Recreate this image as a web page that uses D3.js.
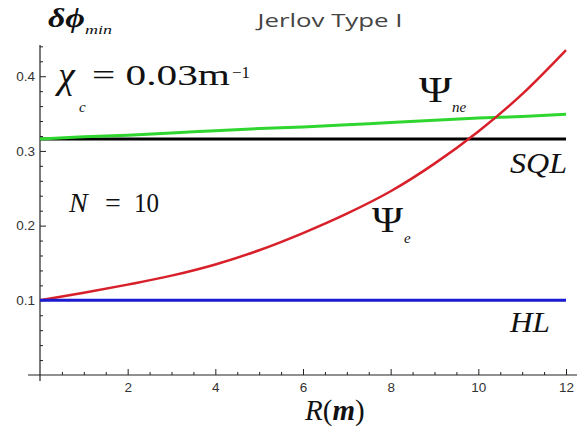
<!DOCTYPE html>
<html>
<head>
<meta charset="utf-8">
<script src="https://cdn.jsdelivr.net/npm/d3@7"></script>
<style>
  body { margin: 0; background: #fff; }
  .tick text { font-size: 13.5px; font-family: "Liberation Sans", Arial, sans-serif; fill: #333; }
</style>
</head>
<body>
<script>
var rValues = [0, 1, 2, 3, 4, 5, 6, 7, 8, 9, 10, 11, 12];
var psiE  = [0.100, 0.110, 0.121, 0.133, 0.148, 0.167, 0.190, 0.216, 0.246, 0.283, 0.326, 0.376, 0.435];
var psiNe = [0.316, 0.319, 0.321, 0.324, 0.327, 0.330, 0.332, 0.335, 0.338, 0.341, 0.344, 0.346, 0.349];
var sqlValues = [0.316, 0.316, 0.316, 0.316, 0.316, 0.316, 0.316, 0.316, 0.316, 0.316, 0.316, 0.316, 0.316];
var hlValues  = [0.1, 0.1, 0.1, 0.1, 0.1, 0.1, 0.1, 0.1, 0.1, 0.1, 0.1, 0.1, 0.1];
var xTicks = [2, 4, 6, 8, 10, 12];
var yTicks = [0.1, 0.2, 0.3, 0.4];

var w = 585;
var h = 433;
var serif = '"Liberation Serif", "DejaVu Serif", serif';

var svg = d3.select("body")
            .append("svg")
            .attr("width", w)
            .attr("height", h);

var xScale = d3.scaleLinear().domain([0, 12]).range([40, 566]);
var yScale = d3.scaleLinear().domain([0, 0.4418]).range([375, 45]);

// axis lines (Mathematica style, crossing at origin)
svg.append("line")
   .attr("x1", 28).attr("x2", 577)
   .attr("y1", yScale(0)).attr("y2", yScale(0))
   .attr("stroke", "#222").attr("stroke-width", 1.2);
svg.append("line")
   .attr("x1", xScale(0)).attr("x2", xScale(0))
   .attr("y1", yScale(0.4418)).attr("y2", 381)
   .attr("stroke", "#222").attr("stroke-width", 1.2);

// minor ticks
var xMinor = d3.range(1, 25).map(function(i) { return i * 0.5; })
               .filter(function(d) { return d % 2 !== 0; });
var yMinor = d3.range(1, 23).map(function(i) { return +(i * 0.02).toFixed(2); })
               .filter(function(d) { return Math.round(d * 100) % 10 !== 0; });

svg.append("g")
   .attr("transform", "translate(0," + yScale(0) + ")")
   .call(d3.axisBottom(xScale).tickValues(xMinor).tickSize(-3).tickFormat(""))
   .call(function(g) { g.select(".domain").remove(); });

svg.append("g")
   .attr("transform", "translate(" + xScale(0) + ",0)")
   .call(d3.axisLeft(yScale).tickValues(yMinor).tickSize(-3).tickFormat(""))
   .call(function(g) { g.select(".domain").remove(); });

// major ticks with labels
var xAxis = svg.append("g")
   .attr("transform", "translate(0," + yScale(0) + ")")
   .call(d3.axisBottom(xScale).tickValues(xTicks).tickSizeInner(-6).tickSizeOuter(0).tickPadding(7));
xAxis.select(".domain").remove();

var yAxis = svg.append("g")
   .attr("transform", "translate(" + xScale(0) + ",0)")
   .call(d3.axisLeft(yScale).tickValues(yTicks).tickSizeInner(-6).tickSizeOuter(0).tickPadding(5)
           .tickFormat(d3.format(".1f")));
yAxis.select(".domain").remove();

svg.selectAll(".tick line").attr("stroke", "#222").attr("stroke-width", 1);

// curves
var series = [
  { values: sqlValues, color: "#000000", width: 3 },
  { values: psiNe,     color: "#2fd62f", width: 3 },
  { values: psiE,      color: "#d8202a", width: 2.5 },
  { values: hlValues,  color: "#1a1ad0", width: 3 }
];

var line = d3.line()
   .x(function(d, i) { return xScale(rValues[i]); })
   .y(function(d) { return yScale(d); })
   .curve(d3.curveMonotoneX);

svg.selectAll("path.curve")
   .data(series)
   .enter()
   .append("path")
   .attr("class", "curve")
   .attr("d", function(d) { return line(d.values); })
   .attr("fill", "none")
   .attr("stroke", function(d) { return d.color; })
   .attr("stroke-width", function(d) { return d.width; });

// helper for labels
function label(x, y, txt, size, opts) {
  opts = opts || {};
  var t = svg.append("text")
     .attr("x", x).attr("y", y)
     .style("font-family", opts.family || serif)
     .style("font-size", size + "px")
     .style("font-style", opts.italic ? "italic" : "normal")
     .style("font-weight", opts.bold ? "bold" : "normal")
     .attr("fill", opts.fill || "#111")
     .attr("text-anchor", opts.anchor || "start")
     .text(txt);
  if (opts.len) t.attr("textLength", opts.len).attr("lengthAdjust", "spacingAndGlyphs");
  return t;
}

// title
label(330, 27, "Jerlov Type I", 19, { family: '"Open Sans", Lato, sans-serif', anchor: "middle", fill: "#444", len: 145 });

// y axis label
label(48, 27, "\u03b4\u03d5", 28, { italic: true, bold: true, len: 37 });
label(85, 34, "min", 13, { italic: true, len: 27 });

// chi_c annotation
label(58, 88, "\u03c7", 38, { italic: true });
label(79, 112, "c", 15, { italic: true });
label(92, 85, "= 0.03m", 29, { len: 138 });
label(232, 78, "\u22121", 17, { len: 18 });

// N = 10
label(69, 212, "N", 28, { italic: true });
label(105, 212, "=", 28);
label(134, 212, "10", 28, { len: 25 });

// Psi_ne
label(419, 102, "\u03a8", 36, { len: 33 });
label(452, 112, "ne", 15, { italic: true });

// Psi_e
label(372, 232, "\u03a8", 36, { len: 31 });
label(404, 243, "e", 15, { italic: true });

// SQL, HL
label(567, 173, "SQL", 30, { italic: true, anchor: "end", len: 57 });
label(510, 332, "HL", 29, { italic: true, len: 40 });

// x axis label
var xl = svg.append("text")
   .attr("x", 305).attr("y", 420)
   .style("font-family", serif)
   .style("font-size", "29px")
   .attr("fill", "#111");
xl.append("tspan").style("font-style", "italic").text("R");
xl.append("tspan").text("(");
xl.append("tspan").style("font-style", "italic").style("font-weight", "bold").text("m");
xl.append("tspan").text(")");
</script>
</body>
</html>
